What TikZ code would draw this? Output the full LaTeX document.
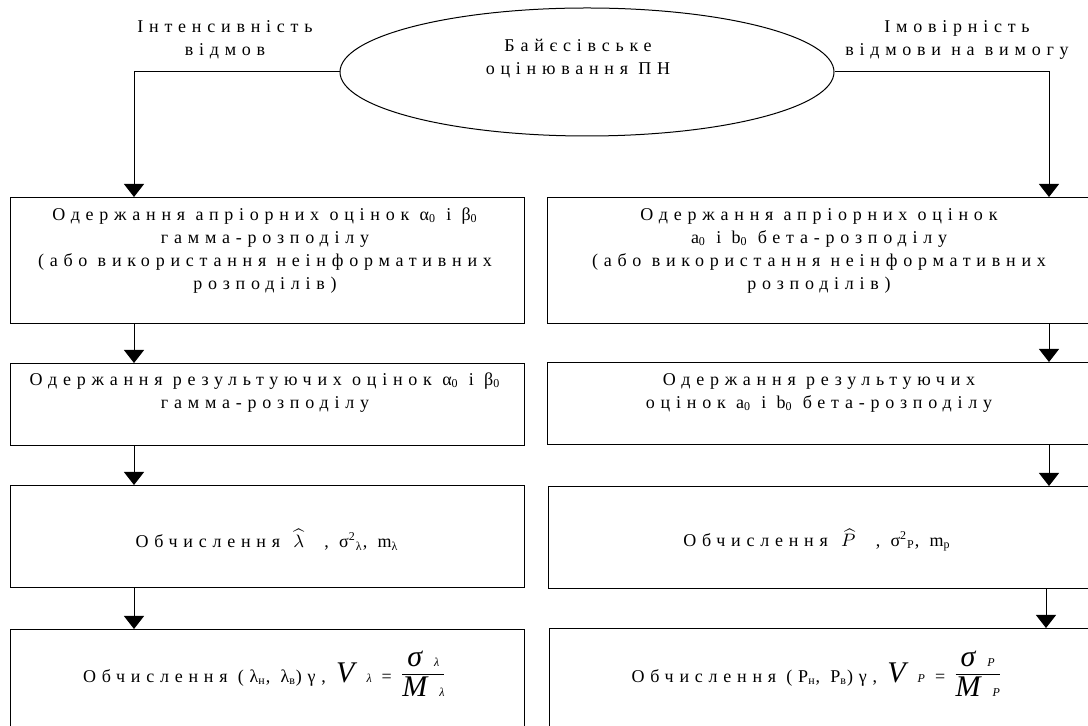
\documentclass[tikz,border=0pt]{standalone}
\usepackage{fontspec}
\setmainfont{Liberation Serif}
\newfontfamily\wide{Liberation Serif}[LetterSpace=32]
\usetikzlibrary{positioning,arrows.meta,shapes.geometric}

\newcommand{\varcoef}[1]{{\fontsize{15}{15}\selectfont\itshape V}\hspace{6pt}{\fontsize{6}{6}\selectfont\itshape #1}\hspace{5pt}=\hspace{4pt}\raisebox{2pt}{$\displaystyle\frac{\mbox{\fontsize{15}{15}\selectfont\itshape σ\hspace{6pt}\fontsize{6}{6}\selectfont #1}}{\mbox{\fontsize{15}{15}\selectfont\itshape M\hspace{6pt}\fontsize{6}{6}\selectfont #1}}$}}

\begin{document}
\begin{tikzpicture}[x=0.5pt,y=-0.5pt,
    box/.style={draw,line width=0.6pt,anchor=north west,inner sep=0pt},
    txt/.style={align=center,inner sep=0pt,font=\wide\fontsize{9}{11.5}\selectfont},
    arr/.style={line width=0.5pt,-{Triangle[width=10pt,length=6.5pt]}}]
    \useasboundingbox (0,0) rectangle (1088,726);
    \clip (0,0) rectangle (1088,726);

    % top
    \node[draw,ellipse,line width=0.5pt,minimum width=247pt,minimum height=64pt,inner sep=0pt] (est) at (587,72) {};
    \node[txt] (esttxt) at (578,59) {Байєсівське\\оцінювання ПН};
    \node[txt] (lbl1) at (225,40) {Інтенсивність\\відмов};
    \node[txt] (lbl2) at (957,40) {Імовірність\\відмови на вимогу};
    \coordinate (lx) at (134,0);
    \coordinate (rx) at (1049,0);

    % left column
    \node[box,minimum width=257pt,minimum height=63pt] (l1) at (10,197) {};
    \node[box,minimum width=257pt,minimum height=41pt] (l2) at (10,363) {};
    \node[box,minimum width=257pt,minimum height=51pt] (l3) at (10,485) {};
    \node[box,minimum width=257pt,minimum height=60pt] (l4) at (10,629) {};
    \node[txt] (tl1) at (265,251) {Одержання апріорних оцінок α\textsubscript{0} і β\textsubscript{0}\\гамма-розподілу\\(або використання неінформативних\\розподілів)};
    \node[txt] (tl2) at (265,393) {Одержання результуючих оцінок α\textsubscript{0} і β\textsubscript{0}\\гамма-розподілу};
    \node[txt] (tl3) at (267,540) {Обчислення \,$\widehat{\lambda}$\;\; , σ\textsuperscript{2}\textsubscript{λ}, m\textsubscript{λ}};
    \node[txt] (tl4) at (265,674) {Обчислення (λ\textsubscript{н}, λ\textsubscript{в})γ, \varcoef{λ}};

    % right column
    \node[box,minimum width=272pt,minimum height=63pt] (r1) at (547,197) {};
    \node[box,minimum width=272pt,minimum height=41pt] (r2) at (547,362) {};
    \node[box,minimum width=272pt,minimum height=51pt] (r3) at (548,486) {};
    \node[box,minimum width=272pt,minimum height=60pt] (r4) at (549,628) {};
    \node[txt] (tr1) at (819,251) {Одержання апріорних оцінок\\a\textsubscript{0} і b\textsubscript{0} бета-розподілу\\(або використання неінформативних\\розподілів)};
    \node[txt] (tr2) at (819,393) {Одержання результуючих\\оцінок a\textsubscript{0} і b\textsubscript{0} бета-розподілу};
    \node[txt] (tr3) at (817,540) {Обчислення \,$\widehat{P}$\;\; , σ\textsuperscript{2}\textsubscript{P}, m\textsubscript{p}};
    \node[txt] (tr4) at (817,674) {Обчислення (P\textsubscript{н}, P\textsubscript{в})γ, \varcoef{P}};

    % connectors
    \draw[arr] (est.west) -| (l1.north -| lx);
    \draw[arr] (est.east) -| (r1.north -| rx);
    \draw[arr] (l1.south -| lx) -- (l2.north -| lx);
    \draw[arr] (l2.south -| lx) -- (l3.north -| lx);
    \draw[arr] (l3.south -| lx) -- (l4.north -| lx);
    \draw[arr] (r1.south -| rx) -- (r2.north -| rx);
    \draw[arr] (r2.south -| rx) -- (r3.north -| rx);
    \draw[arr] ([xshift=-1.5pt]r3.south -| rx) -- ([xshift=-1.5pt]r4.north -| rx);
\end{tikzpicture}
\end{document}
